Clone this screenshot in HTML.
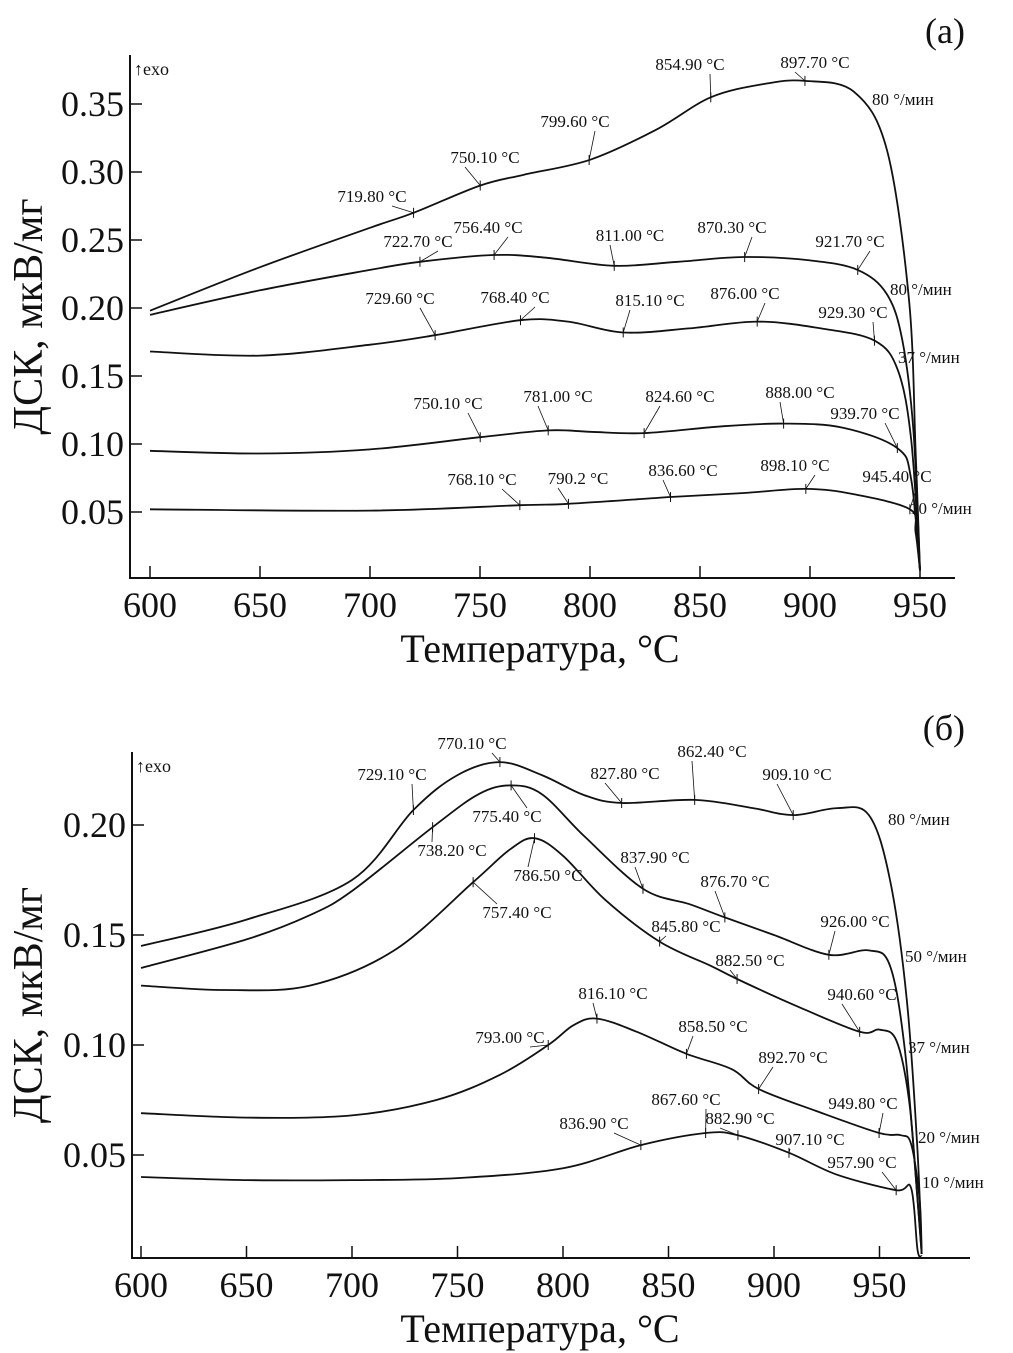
<!DOCTYPE html>
<html><head><meta charset="utf-8"><style>
html,body{margin:0;padding:0;background:#fff}
svg{display:block}
text{font-family:"Liberation Serif","DejaVu Serif",serif;fill:#111}
</style></head><body>
<svg id="chart" width="1013" height="1353" viewBox="0 0 1013 1353" xmlns="http://www.w3.org/2000/svg"></svg>
<script>
// ---------- data panel (a) ----------
const aTicksX = [600,650,700,750,800,850,900,950];
const aTicksY = [0.05,0.10,0.15,0.20,0.25,0.30,0.35];
const aT1 = [600,650,700,719.8,750,770,800,830,855,880,897.7,920,935,945,948,950];
const aV1 = [0.198,0.230,0.259,0.270,0.290,0.298,0.309,0.331,0.355,0.365,0.367,0.359,0.316,0.206,0.095,0.007];
const aT2 = [600,650,700,722.7,756.4,780,811,840,870,900,921.7,935,942,947,950];
const aV2 = [0.195,0.213,0.228,0.234,0.239,0.237,0.231,0.234,0.2375,0.235,0.228,0.21,0.176,0.11,0.007];
const aT3 = [600,650,700,729.6,768.4,790,815.1,845,876,905,929.3,940,946,950];
const aV3 = [0.168,0.165,0.173,0.180,0.191,0.190,0.182,0.185,0.190,0.185,0.176,0.154,0.103,0.007];
const aT4 = [600,650,700,750.1,781,800,824.6,860,888,915,939.7,946,950];
const aV4 = [0.095,0.093,0.096,0.105,0.110,0.109,0.108,0.113,0.115,0.112,0.097,0.074,0.007];
const aT5 = [600,700,768.1,790.2,836.6,870,898.1,920,945.4,948,950];
const aV5 = [0.052,0.051,0.055,0.056,0.061,0.064,0.067,0.063,0.052,0.035,0.007];
const aLabels = ["854.90 °C","897.70 °C","799.60 °C","750.10 °C","719.80 °C","722.70 °C","756.40 °C","811.00 °C","870.30 °C","921.70 °C","729.60 °C","768.40 °C","815.10 °C","876.00 °C","929.30 °C","750.10 °C","781.00 °C","824.60 °C","888.00 °C","939.70 °C","768.10 °C","790.2 °C","836.60 °C","898.10 °C","945.40 °C"];
const aLabelTemps = [854.9,897.7,799.6,750.1,719.8,722.7,756.4,811,870.3,921.7,729.6,768.4,815.1,876,929.3,750.1,781,824.6,888,939.7,768.1,790.2,836.6,898.1,945.4];
const aLabelCurve = [0,0,0,0,0,1,1,1,1,1,2,2,2,2,2,3,3,3,3,3,4,4,4,4,4];
const aLabelPos = [[690,70],[815,68],[575,127],[485,163],[372,202],[418,247],[488,233],[630,241],[732,233],[850,247],[400,304],[515,303],[650,306],[745,299],[853,318],[448,409],[558,402],[680,402],[800,398],[865,419],[482,485],[578,484],[683,476],[795,471],[897,482]];
const aRates = ["80 °/мин","80 °/мин","37 °/мин","10 °/мин"];
const aRatePos = [[872,105],[890,295],[898,363],[910,514]];

// ---------- data panel (b) ----------
const bTicksX = [600,650,700,750,800,850,900,950];
const bTicksY = [0.05,0.10,0.15,0.20];
const bT1 = [600,650,700,729.1,750,770.1,790,810,827.8,862.4,890,909.1,930,945,955,963,968,970];
const bV1 = [0.145,0.157,0.175,0.2068,0.2227,0.2286,0.2227,0.2136,0.210,0.2114,0.2077,0.2045,0.2077,0.2045,0.175,0.12,0.052,0.005];
const bT2 = [600,650,680,700,738.2,760,775.4,790,810,837.9,860,876.7,900,926,945,955,962,968,970];
const bV2 = [0.135,0.148,0.159,0.170,0.199,0.214,0.218,0.214,0.195,0.171,0.164,0.158,0.150,0.141,0.143,0.136,0.098,0.03,0.005];
const bT3 = [600,640,680,720,757.4,775,786.5,800,820,845.8,870,882.5,910,940.6,950,958,964,968,970];
const bV3 = [0.127,0.125,0.127,0.143,0.174,0.189,0.194,0.186,0.166,0.147,0.136,0.130,0.118,0.106,0.107,0.102,0.075,0.03,0.005];
const bT4 = [600,650,700,740,770,793,805,816.1,835,858.5,880,892.7,920,949.8,960,965,969,970];
const bV4 = [0.069,0.067,0.068,0.075,0.0864,0.100,0.109,0.112,0.106,0.096,0.089,0.080,0.070,0.060,0.059,0.055,0.03,0.005];
const bT5 = [600,650,700,750,800,836.9,867.6,882.9,907.1,930,957.9,965,968,970];
const bV5 = [0.040,0.0386,0.0386,0.0395,0.044,0.0545,0.060,0.059,0.051,0.041,0.034,0.035,0.007,0.004];
const bLabels = ["770.10 °C","729.10 °C","827.80 °C","862.40 °C","909.10 °C","775.40 °C","738.20 °C","837.90 °C","876.70 °C","926.00 °C","786.50 °C","757.40 °C","845.80 °C","882.50 °C","940.60 °C","793.00 °C","816.10 °C","858.50 °C","892.70 °C","949.80 °C","836.90 °C","867.60 °C","882.90 °C","907.10 °C","957.90 °C"];
const bLabelTemps = [770.1,729.1,827.8,862.4,909.1,775.4,738.2,837.9,876.7,926,786.5,757.4,845.8,882.5,940.6,793,816.1,858.5,892.7,949.8,836.9,867.6,882.9,907.1,957.9];
const bLabelCurve = [0,0,0,0,0,1,1,1,1,1,2,2,2,2,2,3,3,3,3,3,4,4,4,4,4];
const bLabelPos = [[472,749],[392,780],[625,779],[712,757],[797,780],[507,822],[452,856],[655,863],[735,887],[855,927],[548,881],[517,918],[686,932],[750,966],[862,1000],[510,1043],[613,999],[713,1032],[793,1063],[863,1109],[594,1129],[686,1105],[740,1124],[810,1145],[862,1168]];
const bRates = ["80 °/мин","50 °/мин","37 °/мин","20 °/мин","10 °/мин"];
const bRatePos = [[888,825],[905,962],[908,1053],[918,1143],[922,1188]];

const NS="http://www.w3.org/2000/svg";
const svg=document.getElementById('chart');
function mk(tag,attrs,parent){const e=document.createElementNS(NS,tag);for(const k in attrs)e.setAttribute(k,attrs[k]);(parent||svg).appendChild(e);return e;}
function interp(T,V,t){for(let i=0;i<T.length-1;i++){if(t>=T[i]&&t<=T[i+1]){const f=(t-T[i])/(T[i+1]-T[i]);return V[i]+f*(V[i+1]-V[i]);}}return V[V.length-1];}
function smooth(pts){
  let d='M'+pts[0][0].toFixed(1)+','+pts[0][1].toFixed(1);
  for(let i=0;i<pts.length-1;i++){
    const p0=pts[Math.max(0,i-1)],p1=pts[i],p2=pts[i+1],p3=pts[Math.min(pts.length-1,i+2)];
    const k=1/6;
    const c1=[p1[0]+(p2[0]-p0[0])*k,p1[1]+(p2[1]-p0[1])*k];
    const c2=[p2[0]-(p3[0]-p1[0])*k,p2[1]-(p3[1]-p1[1])*k];
    d+=` C${c1[0].toFixed(1)},${c1[1].toFixed(1)} ${c2[0].toFixed(1)},${c2[1].toFixed(1)} ${p2[0].toFixed(1)},${p2[1].toFixed(1)}`;
  }
  return d;
}

function panel(cfg){
  const g=mk('g',{});
  
  
  const X=cfg.X,Y=cfg.Y;
  const ax=mk('path',{d:`M${cfg.left},${cfg.top} L${cfg.left},${cfg.bottom} L${cfg.right},${cfg.bottom}`,fill:'none',stroke:'#111','stroke-width':2},g);
  
  
  cfg.ticksX.forEach(t=>{
    const l=mk('line',{x1:X(t),x2:X(t),y1:cfg.bottom,y2:cfg.bottom-12,stroke:'#111','stroke-width':1.5},g);
    
    
    const tx=mk('text',{x:X(t),y:cfg.bottom+39,'text-anchor':'middle','font-size':36},g);
    tx.textContent=t;
    
    
  });
  cfg.ticksY.forEach(v=>{
    const l=mk('line',{x1:cfg.left,x2:cfg.left+12,y1:Y(v),y2:Y(v),stroke:'#111','stroke-width':1.5},g);
    
    
    const tx=mk('text',{x:cfg.left-6,y:Y(v)+12,'text-anchor':'end','font-size':36},g);
    tx.textContent=v.toFixed(2);
    
    
  });
  const xt=mk('text',{x:540,y:cfg.bottom+84,'text-anchor':'middle','font-size':40},g);
  xt.textContent='Температура, °C';
  
  
  const cy=(cfg.top+cfg.bottom)/2;
  const yt=mk('text',{x:42,y:cy,'text-anchor':'middle','font-size':42,transform:`rotate(-90 42 ${cy})`},g);
  yt.textContent='ДСК, мкВ/мг';
  
  
  const ex=mk('text',{x:cfg.left+4,y:cfg.top+20,'font-size':18},g);
  ex.textContent='↑exo';
  
  
  const pl=mk('text',{x:965,y:cfg.top-12,'text-anchor':'end','font-size':36},g);
  pl.textContent=cfg.panelLabel;
  
  
  cfg.curves.forEach((c,ci)=>{
    const pts=c[0].map((t,i)=>[X(t),Y(c[1][i])]);
    const p=mk('path',{d:smooth(pts),fill:'none',stroke:'#111','stroke-width':1.8,'stroke-linejoin':'round'},g);
    
    
  });
  cfg.labels.forEach((s,i)=>{
    const c=cfg.curves[cfg.labelCurve[i]];
    const t=cfg.labelTemps[i];
    const px=X(t),py=Y(interp(c[0],c[1],t));
    const [lx,ly]=cfg.labelPos[i];
    const ly2=py>ly?ly+4:ly-14;
    const ld=mk('line',{x1:lx+(px>lx?20:-20),y1:ly2,x2:px,y2:py,stroke:'#111','stroke-width':0.8},g);
    
    
    const mkr=mk('line',{x1:px,x2:px,y1:py-5,y2:py+5,stroke:'#111','stroke-width':1},g);
    
    
    const tx=mk('text',{x:lx,y:ly,'text-anchor':'middle','font-size':17},g);
    tx.textContent=s;
    
    
  });
  cfg.rates.forEach((s,i)=>{
    const tx=mk('text',{x:cfg.ratePos[i][0],y:cfg.ratePos[i][1],'font-size':17},g);
    tx.textContent=s;
    
    
  });
}

panel({name:'panel-a',panelLabel:'(a)',left:130,right:955,top:55,bottom:578,
  X:t=>150+(t-600)*2.2, Y:v=>104+(0.35-v)*1360,
  ticksX:aTicksX,ticksY:aTicksY,
  curves:[[aT1,aV1],[aT2,aV2],[aT3,aV3],[aT4,aV4],[aT5,aV5]],
  labels:aLabels,labelTemps:aLabelTemps,labelCurve:aLabelCurve,labelPos:aLabelPos,
  rates:aRates,ratePos:aRatePos});
panel({name:'panel-b',panelLabel:'(б)',left:132,right:970,top:752,bottom:1258,
  X:t=>141+(t-600)*2.11, Y:v=>825+(0.2-v)*2200,
  ticksX:bTicksX,ticksY:bTicksY,
  curves:[[bT1,bV1],[bT2,bV2],[bT3,bV3],[bT4,bV4],[bT5,bV5]],
  labels:bLabels,labelTemps:bLabelTemps,labelCurve:bLabelCurve,labelPos:bLabelPos,
  rates:bRates,ratePos:bRatePos});
</script>
</body></html>
